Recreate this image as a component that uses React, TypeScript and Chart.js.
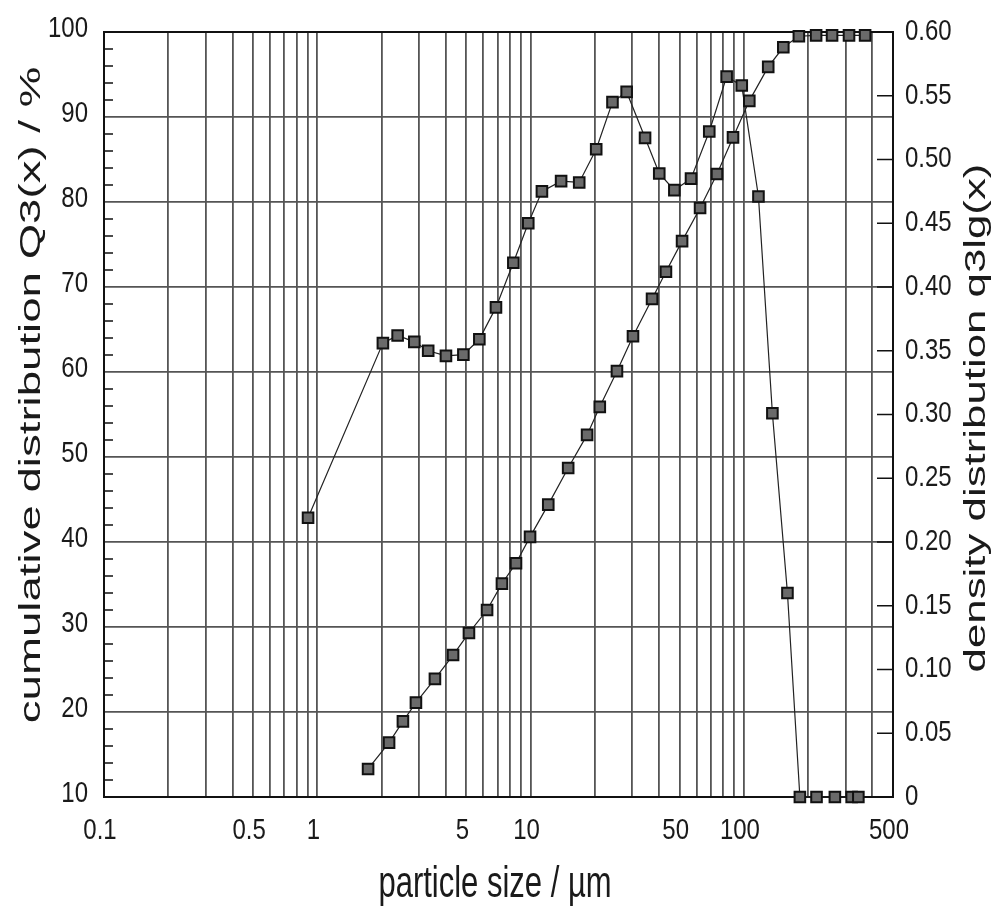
import { useEffect, useRef } from 'react';
import { Chart, registerables } from 'chart.js';

Chart.register(...registerables);

// particle sizes (µm) and cumulative distribution Q3(x) in %
const cumSizes = [1.73, 2.17, 2.52, 2.9, 3.56, 4.33, 5.14, 6.25, 7.34, 8.54, 9.94, 12.1, 15.0, 18.4, 21.1, 25.4, 30.2, 37.1, 43.1, 51.3, 62.3, 74.8, 88.9, 106, 130, 153, 181, 218, 259, 311, 370];
const cumValues = [13.3, 16.4, 18.9, 21.1, 23.9, 26.7, 29.3, 32.0, 35.1, 37.5, 40.6, 44.4, 48.7, 52.6, 55.9, 60.1, 64.2, 68.6, 71.8, 75.4, 79.3, 83.3, 87.6, 91.9, 95.9, 98.2, 99.5, 99.6, 99.6, 99.6, 99.6];

// particle sizes (µm) and density distribution q3lg(x)
const densSizes = [0.905, 2.03, 2.38, 2.85, 3.31, 4.01, 4.84, 5.75, 6.88, 8.3, 9.75, 11.3, 13.9, 16.9, 20.3, 24.2, 28.2, 34.4, 40.1, 47.2, 56.5, 68.8, 83.0, 97.7, 117, 136, 160, 183, 219, 267, 320, 344];
const densValues = [0.219, 0.356, 0.362, 0.357, 0.35, 0.346, 0.347, 0.359, 0.384, 0.419, 0.45, 0.475, 0.483, 0.482, 0.508, 0.545, 0.553, 0.517, 0.489, 0.476, 0.485, 0.522, 0.565, 0.558, 0.471, 0.301, 0.16, 0, 0, 0, 0, 0];

// axis tick labels
const xTickLabels = [0.1, 0.5, 1, 5, 10, 50, 100, 500];
const xGridValues = [
  0.1, 0.2, 0.3, 0.4, 0.5, 0.6, 0.7, 0.8, 0.9,
  1, 2, 3, 4, 5, 6, 7, 8, 9,
  10, 20, 30, 40, 50, 60, 70, 80, 90,
  100, 200, 300, 400, 500,
];
const leftTicks = [10, 20, 30, 40, 50, 60, 70, 80, 90, 100];
const rightTicks = [0, 0.05, 0.1, 0.15, 0.2, 0.25, 0.3, 0.35, 0.4, 0.45, 0.5, 0.55, 0.6];
const rightTickLabels = ['0', '0.05', '0.10', '0.15', '0.20', '0.25', '0.30', '0.35', '0.40', '0.45', '0.50', '0.55', '0.60'];

const xTitle = 'particle size / µm';
const yTitle = 'cumulative distribution Q3(x) / %';
const y1Title = 'density distribution q3lg(x)';

const FONT = "'Liberation Sans', Arial, Helvetica, sans-serif";
const TEXT = '#1a1a1a';
const GRID = '#555555';

function drawText(
  ctx: CanvasRenderingContext2D,
  text: string,
  x: number,
  y: number,
  size: number,
  align: CanvasTextAlign,
  sx: number,
  sy: number,
  rotate = 0,
) {
  ctx.save();
  ctx.translate(x, y);
  if (rotate) ctx.rotate(rotate);
  ctx.scale(sx, sy);
  ctx.font = `${size}px ${FONT}`;
  ctx.fillStyle = TEXT;
  ctx.textAlign = align;
  ctx.textBaseline = 'middle';
  ctx.fillText(text, 0, 0);
  ctx.restore();
}

export default function App() {
  const ref = useRef<HTMLCanvasElement>(null);

  useEffect(() => {
    if (!ref.current) return;

    const framePlugin = {
      id: 'frameTicks',
      beforeDatasetsDraw(chart: any) {
        const { ctx, chartArea: a, scales } = chart;
        ctx.save();
        ctx.strokeStyle = '#111';
        ctx.lineWidth = 2;
        ctx.strokeRect(a.left, a.top, a.right - a.left, a.bottom - a.top);
        ctx.lineWidth = 1.5;
        ctx.beginPath();
        const yl = scales.y;
        for (let i = 0; i < leftTicks.length - 1; i++) {
          const lo = leftTicks[i];
          for (let k = 1; k < 5; k++) {
            const y = yl.getPixelForValue(lo + k * 2);
            ctx.moveTo(a.left, y);
            ctx.lineTo(a.left + 9, y);
          }
        }
        const yr = scales.y1;
        for (const v of rightTicks) {
          const y = yr.getPixelForValue(v);
          ctx.moveTo(a.right - 16, y);
          ctx.lineTo(a.right, y);
        }
        ctx.stroke();
        ctx.restore();
      },
      afterDraw(chart: any) {
        const { ctx, chartArea: a, scales } = chart;
        const xs = scales.x;
        const yl = scales.y;
        const yr = scales.y1;
        // tick labels
        for (const v of xTickLabels) {
          drawText(ctx, String(v), xs.getPixelForValue(v) - 4, a.bottom + 34, 24, 'center', 1, 1.2);
        }
        for (const v of leftTicks) {
          drawText(ctx, String(v), a.left - 16, yl.getPixelForValue(v) - 3, 24, 'right', 1, 1.2);
        }
        rightTicks.forEach((v, i) => {
          drawText(ctx, rightTickLabels[i], a.right + 12, yr.getPixelForValue(v), 24, 'left', 1, 1.2);
        });
        // axis titles (the original figure is stretched vertically)
        drawText(ctx, xTitle, 487, a.bottom + 88, 31, 'center', 1, 1.45);
        drawText(ctx, yTitle, 24, 387, 30, 'center', 1.52, 1, -Math.PI / 2);
        drawText(ctx, y1Title, 969, 410, 30, 'center', 1.46, 1, -Math.PI / 2);
      },
    };

    const pointStyle = {
      showLine: true,
      borderColor: '#222',
      borderWidth: 1.2,
      pointStyle: 'rect' as const,
      pointRadius: 7.5,
      pointBackgroundColor: '#6a6a6a',
      pointBorderColor: '#111',
      pointBorderWidth: 2,
      tension: 0,
      clip: false as const,
      fill: false,
    };

    const chart = new Chart(ref.current, {
      type: 'line',
      data: {
        datasets: [
          {
            label: yTitle,
            data: cumSizes.map((x, i) => ({ x, y: cumValues[i] })),
            yAxisID: 'y',
            ...pointStyle,
          },
          {
            label: y1Title,
            data: densSizes.map((x, i) => ({ x, y: densValues[i] })),
            yAxisID: 'y1',
            ...pointStyle,
          },
        ],
      },
      options: {
        responsive: false,
        animation: false,
        layout: { padding: { top: 24, left: 0, right: 0, bottom: 0 } },
        plugins: { legend: { display: false }, tooltip: { enabled: false } },
        scales: {
          x: {
            type: 'logarithmic',
            min: 0.1,
            max: 500,
            afterBuildTicks: (s: any) => {
              s.ticks = xGridValues.map((v) => ({ value: v }));
            },
            afterFit: (s: any) => {
              s.height = 111;
            },
            ticks: { display: false, autoSkip: false },
            grid: { color: GRID, lineWidth: 1.8, drawTicks: false },
            border: { display: false },
          },
          y: {
            type: 'linear',
            position: 'left',
            min: 10,
            max: 100,
            afterBuildTicks: (s: any) => {
              s.ticks = leftTicks.map((v) => ({ value: v }));
            },
            afterFit: (s: any) => {
              s.width = 96;
            },
            ticks: { display: false },
            grid: { color: GRID, lineWidth: 1.8, drawTicks: false },
            border: { display: false },
          },
          y1: {
            type: 'linear',
            position: 'right',
            min: 0,
            max: 0.6,
            afterBuildTicks: (s: any) => {
              s.ticks = rightTicks.map((v) => ({ value: v }));
            },
            afterFit: (s: any) => {
              s.width = 109;
            },
            ticks: { display: false },
            grid: { drawOnChartArea: false, drawTicks: false },
            border: { display: false },
          },
        },
      },
      plugins: [framePlugin],
    });

    return () => chart.destroy();
  }, []);

  return <canvas ref={ref} width={994} height={900} style={{ display: 'block' }} />;
}
